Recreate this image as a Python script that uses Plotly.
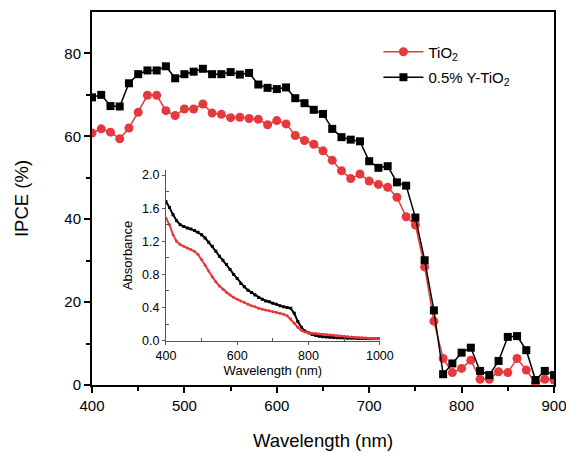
import plotly.graph_objects as go

# ---- main IPCE data (10 nm steps) ----
wavelength = list(range(400, 901, 10))
ipce_tio2 = [60.8, 61.8, 61.0, 59.4, 62.0, 65.8, 69.9, 69.9, 66.2, 65.0,
             66.6, 66.6, 67.8, 65.6, 65.3, 64.5, 64.6, 64.3, 64.1, 62.8,
             63.8, 63.0, 60.2, 59.0, 58.1, 56.5, 54.2, 51.7, 49.8, 50.9,
             49.2, 48.4, 47.7, 45.3, 40.6, 38.6, 28.5, 15.4, 6.4, 3.0,
             4.0, 6.0, 1.4, 1.4, 3.2, 3.0, 6.4, 3.6, 0.4, 1.4, 1.2]
ipce_y = [69.4, 70.0, 67.3, 67.2, 72.8, 75.0, 75.9, 75.9, 76.9, 74.0,
          75.0, 75.6, 76.3, 75.0, 75.0, 75.5, 74.9, 75.3, 72.5, 71.7,
          71.4, 71.8, 69.2, 68.0, 66.4, 65.4, 61.8, 59.8, 59.2, 58.8,
          54.0, 52.4, 52.8, 48.9, 48.1, 40.4, 30.1, 18.0, 2.6, 5.2,
          7.8, 9.0, 3.4, 2.4, 5.8, 11.6, 11.8, 8.4, 1.2, 3.4, 2.4]

# ---- inset absorbance data ----
abs_wl = list(range(400, 1001, 10))
abs_y = [1.68, 1.61, 1.52, 1.45, 1.40, 1.38, 1.36, 1.35, 1.33, 1.31,
         1.28, 1.24, 1.19, 1.14, 1.08, 1.02, 0.97, 0.92, 0.86, 0.80,
         0.75, 0.69, 0.65, 0.61, 0.58, 0.55, 0.52, 0.50, 0.48, 0.47,
         0.45, 0.44, 0.42, 0.41, 0.40, 0.39, 0.33, 0.23, 0.16, 0.115,
         0.095, 0.075, 0.062, 0.054, 0.048, 0.044, 0.041, 0.038, 0.036, 0.034,
         0.032, 0.030, 0.029, 0.028, 0.027, 0.026, 0.025, 0.024, 0.023, 0.022, 0.021]
abs_tio2 = [1.48, 1.40, 1.28, 1.20, 1.16, 1.14, 1.12, 1.10, 1.08, 1.04,
            0.98, 0.91, 0.84, 0.77, 0.71, 0.66, 0.62, 0.58, 0.55, 0.52,
            0.50, 0.48, 0.46, 0.44, 0.42, 0.41, 0.39, 0.38, 0.37, 0.36,
            0.35, 0.34, 0.33, 0.32, 0.30, 0.26, 0.21, 0.16, 0.125, 0.105,
            0.095, 0.090, 0.086, 0.081, 0.077, 0.072, 0.068, 0.064, 0.060, 0.056,
            0.052, 0.048, 0.044, 0.040, 0.037, 0.034, 0.031, 0.028, 0.026, 0.024, 0.022]

RED = "#E5393C"
BLACK = "#000000"
FONT = "Liberation Sans, Arial, sans-serif"

fig = go.Figure()
fig.add_trace(go.Scatter(x=wavelength, y=ipce_tio2, mode="lines+markers",
                         name="TiO<sub>2</sub>", legendgroup="a",
                         line=dict(color=RED, width=1.5),
                         marker=dict(symbol="circle", size=9, color=RED)))
fig.add_trace(go.Scatter(x=wavelength, y=ipce_y, mode="lines+markers",
                         name="0.5% Y-TiO<sub>2</sub>", legendgroup="b",
                         line=dict(color=BLACK, width=1.5),
                         marker=dict(symbol="square", size=8, color=BLACK)))
# inset
fig.add_trace(go.Scatter(x=abs_wl, y=abs_y, mode="lines+markers", xaxis="x2", yaxis="y2",
                         showlegend=False, line=dict(color=BLACK, width=2),
                         marker=dict(symbol="square", size=3, color=BLACK)))
fig.add_trace(go.Scatter(x=abs_wl, y=abs_tio2, mode="lines+markers", xaxis="x2", yaxis="y2",
                         showlegend=False, line=dict(color=RED, width=2),
                         marker=dict(symbol="circle", size=3, color=RED)))

fig.update_layout(
    width=566, height=452,
    margin=dict(l=92, r=12, t=12, b=67),
    paper_bgcolor="white", plot_bgcolor="rgba(0,0,0,0)",
    font=dict(family=FONT, color="black", size=15),
    showlegend=True,
    legend=dict(x=0.62, y=0.937, xanchor="left", yanchor="top",
                bgcolor="rgba(0,0,0,0)", font=dict(size=15, family=FONT),
                itemwidth=40, tracegroupgap=3),
    xaxis=dict(range=[400, 900], tickvals=[400, 500, 600, 700, 800, 900], automargin=False,
               ticklabeloverflow="allow",
               showline=True, linecolor="black", linewidth=2, mirror=True,
               ticks="outside", ticklen=6, tickwidth=1.5, tickcolor="black",
               minor=dict(tickvals=[450, 550, 650, 750, 850], ticks="outside", ticklen=4, tickcolor="black"),
               showgrid=False, zeroline=False,
               tickfont=dict(size=15),
               title=dict(text="Wavelength (nm)", font=dict(size=18.5), standoff=21)),
    yaxis=dict(range=[0, 90], tickvals=[0, 20, 40, 60, 80], automargin=False,
               showline=True, linecolor="black", linewidth=2, mirror=True,
               ticks="outside", ticklen=6, tickwidth=1.5, tickcolor="black",
               minor=dict(tickvals=[10, 30, 50, 70], ticks="outside", ticklen=4, tickcolor="black"),
               showgrid=False, zeroline=False,
               tickfont=dict(size=15),
               title=dict(text="IPCE (%)", font=dict(size=18.5), standoff=31)),
    xaxis2=dict(domain=[0.16, 0.623], anchor="y2", range=[400, 1000], automargin=False,
                tickvals=[400, 600, 800, 1000],
                showline=True, linecolor="#555555", linewidth=1, mirror=False,
                ticks="outside", ticklen=3, tickcolor="#555555",
                minor=dict(tickvals=[500, 700, 900], ticks="inside", ticklen=3, tickcolor="#555555"),
                showgrid=False, zeroline=False, tickfont=dict(size=12.5),
                title=dict(text="Wavelength (nm)", font=dict(size=13), standoff=4)),
    yaxis2=dict(domain=[0.119, 0.576], anchor="x2", range=[0, 2.06], automargin=False,
                tickvals=[0, 0.4, 0.8, 1.2, 1.6, 2.0], ticktext=["0.0", "0.4", "0.8", "1.2", "1.6", "2.0"],
                showline=True, linecolor="#555555", linewidth=1, mirror=False,
                ticks="outside", ticklen=3, tickcolor="#555555",
                minor=dict(tickvals=[0.2, 0.6, 1.0, 1.4, 1.8], ticks="inside", ticklen=3, tickcolor="#555555"),
                showgrid=False, zeroline=False, tickfont=dict(size=12.5),
                title=dict(text="Absorbance", font=dict(size=13), standoff=6)),
)

fig.write_html("out.html", config={"displayModeBar": False},
               post_script=("document.documentElement.style.overflow='hidden';"
                            "document.body.style.overflow='hidden';"
                            "document.body.style.margin='0';"))
